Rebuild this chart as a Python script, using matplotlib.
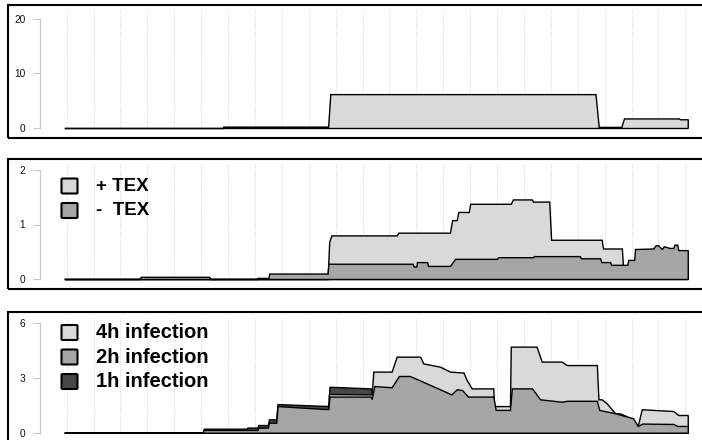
import matplotlib
matplotlib.use("Agg")
import matplotlib.pyplot as plt
from matplotlib.patches import Rectangle, FancyBboxPatch

plt.rcParams['font.family'] = ['Liberation Sans', 'DejaVu Sans']

# ---------------- data (hours since start) ----------------
# panel 1: total signal
p1_x = [-0.09, 5.80, 5.82, 9.72, 9.80, 19.66, 19.78, 20.62, 20.72, 22.76, 22.80, 23.09]
p1_y = [0.0, 0.0, 0.25, 0.25, 6.2, 6.2, 0.2, 0.2, 1.75, 1.75, 1.6, 1.6]

# panel 2: + TEX / - TEX
tex_plus_x = [-0.09, 9.70, 9.76, 9.84, 12.27, 12.33, 14.25, 14.33, 14.50, 14.56, 14.95, 15.00,
              16.51, 16.59, 17.29, 17.34, 17.94, 18.01, 19.89, 19.94, 20.64, 20.68, 23.09]
tex_plus_y = [0.0, 0.0, 0.68, 0.80, 0.80, 0.85, 0.85, 1.08, 1.08, 1.23, 1.23, 1.38,
              1.38, 1.46, 1.46, 1.42, 1.42, 0.72, 0.72, 0.56, 0.56, 0.25, 0.25]
tex_minus_x = [-0.09, 2.72, 2.75, 5.30, 5.33, 7.06, 7.09, 7.50, 7.53, 9.70, 9.73,
               12.86, 12.90, 13.00, 13.02, 13.40, 13.43, 14.25, 14.44, 15.99, 16.05,
               17.33, 17.38, 19.08, 19.12, 19.83, 19.88, 20.20, 20.25, 20.84, 20.88,
               21.10, 21.13, 21.81, 21.90, 21.98, 22.13, 22.20, 22.42, 22.55, 22.60,
               22.70, 22.74, 23.09]
tex_minus_y = [0.0, 0.0, 0.04, 0.04, 0.0, 0.0, 0.02, 0.02, 0.10, 0.10, 0.28,
               0.28, 0.23, 0.23, 0.31, 0.31, 0.24, 0.24, 0.37, 0.37, 0.40,
               0.40, 0.42, 0.42, 0.38, 0.38, 0.31, 0.31, 0.26, 0.26, 0.35,
               0.35, 0.55, 0.56, 0.62, 0.62, 0.55, 0.60, 0.57, 0.57, 0.63,
               0.63, 0.53, 0.53]

# panel 3: infection time courses
inf4_x = [-0.09, 9.70, 9.75, 11.34, 11.40, 12.08, 12.27, 13.14, 13.26, 13.88, 14.25, 14.75,
          14.87, 15.06, 15.86, 15.89, 16.48, 16.51, 17.47, 17.66, 18.40, 18.59, 19.71, 19.77,
          19.89, 20.08, 20.39, 20.57, 20.82, 21.07, 21.23, 21.38, 21.44, 22.55, 22.74, 23.09]
inf4_y = [0.0, 0.0, 2.12, 2.10, 3.35, 3.35, 4.17, 4.17, 3.80, 3.62, 3.35, 3.30,
          2.89, 2.43, 2.43, 1.46, 1.46, 4.72, 4.72, 3.90, 3.90, 3.71, 3.71, 1.83,
          1.83, 1.61, 1.06, 1.06, 0.90, 0.70, 0.37, 1.28, 1.28, 1.19, 0.97, 0.97]
inf2_x = [-0.09, 5.05, 5.10, 7.09, 7.12, 7.48, 7.52, 7.79, 7.84, 9.60, 9.73, 9.77, 11.30,
          11.34, 11.44, 12.08, 12.35, 12.76, 13.88, 14.30, 14.50, 14.70, 14.92, 15.86,
          15.95, 16.48, 16.55, 17.30, 17.60, 18.40, 18.60, 19.71, 19.80, 20.40, 21.06,
          21.23, 21.40, 22.55, 22.70, 23.09]
inf2_y = [0.0, 0.0, 0.15, 0.15, 0.28, 0.28, 0.55, 0.55, 1.46, 1.30, 1.30, 1.98, 1.98,
          1.85, 2.56, 2.49, 3.11, 3.11, 2.38, 2.10, 2.38, 2.34, 1.98, 1.98,
          1.25, 1.25, 2.43, 2.43, 1.83, 1.70, 1.75, 1.75, 1.25, 1.06, 0.79,
          0.37, 0.50, 0.48, 0.37, 0.37]
inf1_x = [-0.09, 5.05, 5.10, 6.69, 6.72, 7.09, 7.12, 7.48, 7.52, 7.79, 7.84, 9.60, 9.73,
          9.77, 11.30, 11.36, 12.08, 12.35, 13.00, 15.80, 15.90, 16.48, 16.56, 17.40,
          17.60, 19.70, 19.80, 20.40, 21.20, 21.40, 23.09]
inf1_y = [0.0, 0.0, 0.22, 0.22, 0.28, 0.28, 0.42, 0.42, 0.73, 0.73, 1.57, 1.47, 1.47,
          2.52, 2.43, 2.20, 2.20, 2.80, 2.70, 1.80, 1.10, 1.10, 2.20, 2.20,
          1.60, 1.50, 1.10, 0.90, 0.30, 0.40, 0.30]

hours = list(range(24))

LIGHT, MID, DARK = '#d9d9d9', '#a6a6a6', '#474747'

# ---------------- layout helpers (pixel geometry) ----------------
W, H = 702, 440
fig = plt.figure(figsize=(W / 100, H / 100), dpi=100)


def fx(px):
    return px / W


def fy(py):
    return 1 - py / H


AX_LEFT, AX_RIGHT = 39.8, 702.0
XLIM = (-1.0, 23.62)

panels = [
    dict(top=5.5, bottom=138.0, zero=128.0, tick_top=18.7, ticks=[0, 10, 20]),
    dict(top=159.0, bottom=289.0, zero=279.0, tick_top=170.0, ticks=[0, 1, 2]),
    dict(top=312.0, bottom=442.0, zero=432.7, tick_top=323.3, ticks=[0, 3, 6]),
]

axes = []
for p in panels:
    a_top = p['top'] + 3.5
    a_bot = p['bottom'] - 2.0
    ax = fig.add_axes([fx(AX_LEFT), fy(a_bot), fx(AX_RIGHT) - fx(AX_LEFT), (a_bot - a_top) / H])
    scale = (p['zero'] - p['tick_top']) / p['ticks'][-1]
    lo = -(a_bot - p['zero']) / scale
    hi = (p['zero'] - a_top) / scale
    ax.set_xlim(*XLIM)
    ax.set_ylim(lo, hi)
    ax.patch.set_visible(False)
    for s in ('top', 'right', 'bottom'):
        ax.spines[s].set_visible(False)
    ax.spines['left'].set_bounds(0, p['ticks'][-1])
    ax.spines['left'].set_color('#c8c8c8')
    ax.spines['left'].set_linewidth(0.9)
    ax.set_xticks([])
    ax.set_yticks(p['ticks'])
    ax.tick_params(axis='y', length=5, width=0.8, color='#c8c8c8', labelsize=7.3,
                   pad=5.5, labelcolor='#111111')
    ax.vlines(hours, 0, hi, colors='#d6d6d6', linestyles=(0, (1.2, 1.6)), linewidth=0.7, zorder=0)
    # outer frame of the panel
    fig.add_artist(Rectangle((fx(8), fy(p['bottom'])), fx(730) - fx(8),
                             (p['bottom'] - p['top']) / H, transform=fig.transFigure,
                             fill=False, edgecolor='black', linewidth=1.5))
    axes.append(ax)

EDGE = dict(edgecolor='black', linewidth=1.0, joinstyle='miter')

ax1, ax2, ax3 = axes
ax1.fill_between(p1_x, 0, p1_y, facecolor=LIGHT, zorder=2, **EDGE)

ax2.fill_between(tex_plus_x, 0, tex_plus_y, facecolor=LIGHT, zorder=2, **EDGE)
ax2.fill_between(tex_minus_x, 0, tex_minus_y, facecolor=MID, zorder=3, **EDGE)

ax3.fill_between(inf1_x, 0, inf1_y, facecolor=DARK, zorder=2, **EDGE)
ax3.fill_between(inf4_x, 0, inf4_y, facecolor=LIGHT, zorder=3, **EDGE)
ax3.fill_between(inf2_x, 0, inf2_y, facecolor=MID, zorder=4, **EDGE)


# ---------------- legends ----------------
def legend(entries, centers, size):
    for (label, color), cy in zip(entries, centers):
        fig.add_artist(FancyBboxPatch((fx(61.5), fy(cy + 7.5)), fx(77.5) - fx(61.5), 15 / H,
                                      boxstyle='round,pad=0,rounding_size=0.002',
                                      transform=fig.transFigure, facecolor=color,
                                      edgecolor='black', linewidth=1.5))
        fig.text(fx(96.5), fy(cy), label, fontsize=size, fontweight='bold',
                 ha='left', va='center', color='black')


legend([('+ TEX', LIGHT), ('-  TEX', MID)], [186.0, 210.5], 13.5)
legend([('4h infection', LIGHT), ('2h infection', MID), ('1h infection', DARK)],
       [332.5, 357.0, 381.5], 14.5)

fig.savefig('out.png', dpi=100)
